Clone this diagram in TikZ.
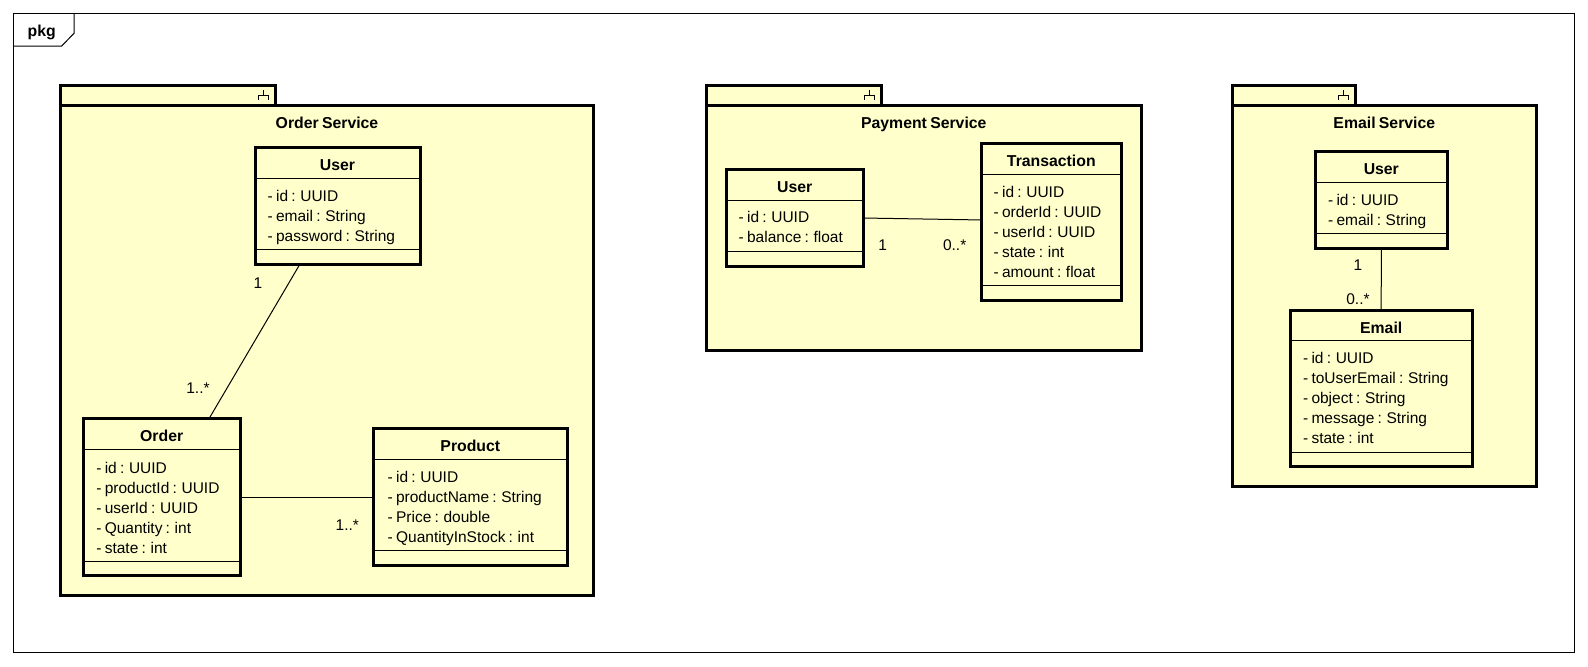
\documentclass[tikz,border=0pt]{standalone}
\usepackage{fontspec}
\setmainfont[WordSpace=0.75]{Liberation Sans}
\usetikzlibrary{fit,calc}
\definecolor{umlfill}{HTML}{FFFFCC}
\newcommand\pkgicon[1]{\draw[line width=0.5pt] (#1-12,90) -- (#1-12,95) (#1-17,100) -- (#1-17,95) -- (#1-7,95) -- (#1-7,100);}
\newcommand\attrlist[4]{\foreach \t [count=\i] in {#4} {\node[attr] (#1-a\i) at (#2,{#3+20*(\i-1)}) {\t};}}
\begin{document}
\begin{tikzpicture}[x=0.5pt,y=-0.5pt,
  pkgbox/.style={draw, line width=1.5pt, fill=umlfill, inner sep=0pt, outer sep=0pt},
  clsbox/.style={draw, line width=1.5pt, fill=umlfill, inner sep=0pt, outer sep=0pt},
  thinln/.style={line width=0.5pt},
  hdr/.style={font=\fontsize{7.9}{9}\selectfont\bfseries, inner sep=0pt, anchor=base},
  attr/.style={font=\fontsize{7.75}{9}\selectfont, inner sep=0pt, anchor=base west},
  mult/.style={font=\fontsize{7.75}{9}\selectfont, inner sep=0pt, anchor=base east},
  assoc/.style={line width=0.5pt},
]
\useasboundingbox (0,0) rectangle (1588,666);
\fill[white] (0,0) rectangle (1588,666);

% outer frame
\draw[line width=0.5pt] (13.3,13.3) rectangle (1574,652.7);
\draw[line width=0.5pt] (13.3,46) -- (61.7,46) -- (74,33.3) -- (74,13.3);
\node[hdr] (pkglbl) at (41.7,36.7) {pkg};

% ---------------- Order Service ----------------
\node[pkgbox, fit={(60.7,85) (275,105)}] (otab) {};
\node[pkgbox, fit={(60.7,105) (593.5,595.5)}] (obody) {};
\pkgicon{275}
\node[hdr] (otitle) at (327,128.3) {Order Service};

\node[clsbox, fit={(255,147.7) (420,264)}] (ouser) {};
\node[hdr] (ouser-n) at (337.5,170) {User};
\draw[thinln] (ouser.west |- 0,178.3) -- (ouser.east |- 0,178.3);
\attrlist{ouser}{267.3}{201.3}{- id : UUID, - email : String, - password : String}
\draw[thinln] (ouser.west |- 0,249.3) -- (ouser.east |- 0,249.3);

\node[clsbox, fit={(83.3,418.3) (240,575.7)}] (order) {};
\node[hdr] (order-n) at (161.7,441.3) {Order};
\draw[thinln] (order.west |- 0,449.3) -- (order.east |- 0,449.3);
\attrlist{order}{96}{473.3}{- id : UUID, - productId : UUID, - userId : UUID, - Quantity : int, - state : int}
\draw[thinln] (order.west |- 0,561) -- (order.east |- 0,561);

\node[clsbox, fit={(373.3,428.7) (567.3,565.3)}] (product) {};
\node[hdr] (product-n) at (470.3,451.7) {Product};
\draw[thinln] (product.west |- 0,459.3) -- (product.east |- 0,459.3);
\attrlist{product}{387.3}{482.3}{- id : UUID, - productName : String, - Price : double, - QuantityInStock : int}
\draw[thinln] (product.west |- 0,550.7) -- (product.east |- 0,550.7);

\draw[assoc] ($(ouser.south)+(-37.5,0)$) -- ($(order.north)+(47.6,0)$);
\draw[assoc] (order.east) -- (product.west);
\node[mult] (m1) at (262.7,288.3) {1};
\node[mult] (m2) at (210,393.3) {1..*};
\node[mult] (m3) at (359.3,530) {1..*};

% ---------------- Payment Service ----------------
\node[pkgbox, fit={(706,85) (881,105)}] (ptab) {};
\node[pkgbox, fit={(706,105) (1141.7,350)}] (pbody) {};
\pkgicon{881}
\node[hdr] (ptitle) at (923.8,128.3) {Payment Service};

\node[clsbox, fit={(726,169.3) (863.3,266.7)}] (puser) {};
\node[hdr] (puser-n) at (794.7,192.7) {User};
\draw[thinln] (puser.west |- 0,200) -- (puser.east |- 0,200);
\attrlist{puser}{738.3}{222.7}{- id : UUID, - balance : float}
\draw[thinln] (puser.west |- 0,251.7) -- (puser.east |- 0,251.7);

\node[clsbox, fit={(981,143.3) (1121.7,300)}] (trans) {};
\node[hdr] (trans-n) at (1051.3,166) {Transaction};
\draw[thinln] (trans.west |- 0,174.3) -- (trans.east |- 0,174.3);
\attrlist{trans}{993.3}{197.3}{- id : UUID, - orderId : UUID, - userId : UUID, - state : int, - amount : float}
\draw[thinln] (trans.west |- 0,285) -- (trans.east |- 0,285);

\draw[assoc] (puser.east) -- ($(trans.west)+(0,-1.7)$);
\node[mult] (m4) at (887.3,250.7) {1};
\node[mult] (m5) at (966.7,250.7) {0..*};

% ---------------- Email Service ----------------
\node[pkgbox, fit={(1232.7,85) (1355,105)}] (etab) {};
\node[pkgbox, fit={(1232.7,105) (1536,486.7)}] (ebody) {};
\pkgicon{1355}
\node[hdr] (etitle) at (1384.3,128.3) {Email Service};

\node[clsbox, fit={(1315,151) (1447.7,248.3)}] (euser) {};
\node[hdr] (euser-n) at (1381.3,174.3) {User};
\draw[thinln] (euser.west |- 0,182.3) -- (euser.east |- 0,182.3);
\attrlist{euser}{1327.7}{205}{- id : UUID, - email : String}
\draw[thinln] (euser.west |- 0,233.3) -- (euser.east |- 0,233.3);

\node[clsbox, fit={(1290,310) (1472.3,466.7)}] (email) {};
\node[hdr] (email-n) at (1381.2,333.3) {Email};
\draw[thinln] (email.west |- 0,340) -- (email.east |- 0,340);
\attrlist{email}{1302.7}{363.3}{- id : UUID, - toUserEmail : String, - object : String, - message : String, - state : int}
\draw[thinln] (email.west |- 0,452.3) -- (email.east |- 0,452.3);

\draw[assoc] (euser.south) -- (email.north);
\node[mult] (m6) at (1362.7,270) {1};
\node[mult] (m7) at (1370,304.3) {0..*};
\end{tikzpicture}
\end{document}
